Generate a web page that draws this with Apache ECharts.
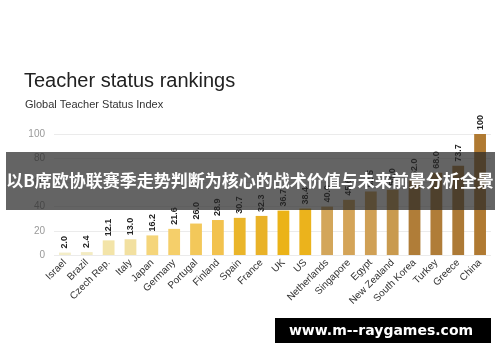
<!DOCTYPE html>
<html>
<head>
<meta charset="utf-8">
<script src="https://cdn.jsdelivr.net/npm/echarts@6/dist/echarts.min.js"></script>
<style>
html,body{margin:0;padding:0;background:#fff;}
#c{width:500px;height:362px;}
</style>
</head>
<body>
<div id="c"></div>
<script>
const countries = ["Israel","Brazil","Czech Rep.","Italy","Japan","Germany","Portugal","Finland","Spain","France","UK","US","Netherlands","Singapore","Egypt","New Zealand","South Korea","Turkey","Greece","China"];
const values = [2.0,2.4,12.1,13.0,16.2,21.6,26.0,28.9,30.7,32.3,36.7,38.4,40.0,45.6,52.5,54.0,62.0,68.0,73.7,100];
const yTicks = [0,20,40,60,80,100];
const valueLabels = ["2.0","2.4","12.1","13.0","16.2","21.6","26.0","28.9","30.7","32.3","36.7","38.4","40.0","45.6","52.5","54.0","62.0","68.0","73.7","100"];

const palette = ["#f3edc8","#f3ebc2","#f3e4a8","#f2e0a0","#f5d57a","#f5cf6a","#f3c85a","#f2c24e","#eab52a","#e9b228","#ebb318","#ebb31c","#d3a65a","#d4a458","#d0a055","#c99a4e","#b07d38","#b07d38","#ad7a36","#b07a32"];

const chart = echarts.init(document.getElementById('c'), null, {renderer:'canvas'});
chart.setOption({
  backgroundColor:'#fff',
  animation:false,
  title:[
    {text:'Teacher status rankings', left:19, top:66, textStyle:{fontFamily:'Liberation Sans, Arial', fontSize:20, fontWeight:'normal', color:'#222'}},
    {text:'Global Teacher Status Index', left:20, top:94, textStyle:{fontFamily:'Liberation Sans, Arial', fontSize:11, fontWeight:'normal', color:'#333'}}
  ],
  grid:{left:54, right:9, top:134, bottom:107, containLabel:false},
  xAxis:{
    type:'category',
    data:countries,
    axisLine:{show:false},
    axisTick:{show:false},
    axisLabel:{rotate:45, interval:0, color:'#333', fontSize:10, fontFamily:'Liberation Sans, Arial', margin:6}
  },
  yAxis:{
    type:'value', min:0, max:100, interval:20,
    axisLine:{show:false}, axisTick:{show:false},
    axisLabel:{color:'#999', fontSize:10, fontFamily:'Liberation Sans, Arial', margin:9,
      formatter:(v)=> yTicks.indexOf(v)>=0 ? String(v) : ''},
    splitLine:{lineStyle:{color:'#ebebeb', width:1}}
  },
  series:[{
    type:'bar',
    barWidth:'54%',
    data:values.map((v,i)=>({value:v, itemStyle:{color:palette[i]}})),
    label:{show:true, position:'top', rotate:90, align:'left', verticalAlign:'middle', distance:4,
      color:'#222', fontSize:9, fontWeight:'bold', fontFamily:'Liberation Sans, Arial',
      formatter:(p)=>valueLabels[p.dataIndex]}
  }],
  graphic:[
    {type:'rect', z:100, shape:{x:6, y:152, width:489, height:58}, style:{fill:'rgba(40,40,40,0.72)'}},
    {type:'text', z:101, x:250, y:181, style:{text:'以B席欧协联赛季走势判断为核心的战术价值与未来前景分析全景', fill:'#fff', font:'bold 17px "Noto Sans CJK SC", sans-serif', align:'center', verticalAlign:'middle'}},
    {type:'rect', z:100, shape:{x:275, y:318, width:216, height:25}, style:{fill:'#000'}},
    {type:'text', z:101, x:381, y:331, style:{text:'www.m--raygames.com', fill:'#fff', font:'bold 14px "DejaVu Sans", sans-serif', align:'center', verticalAlign:'middle'}}
  ]
});
</script>
</body>
</html>
